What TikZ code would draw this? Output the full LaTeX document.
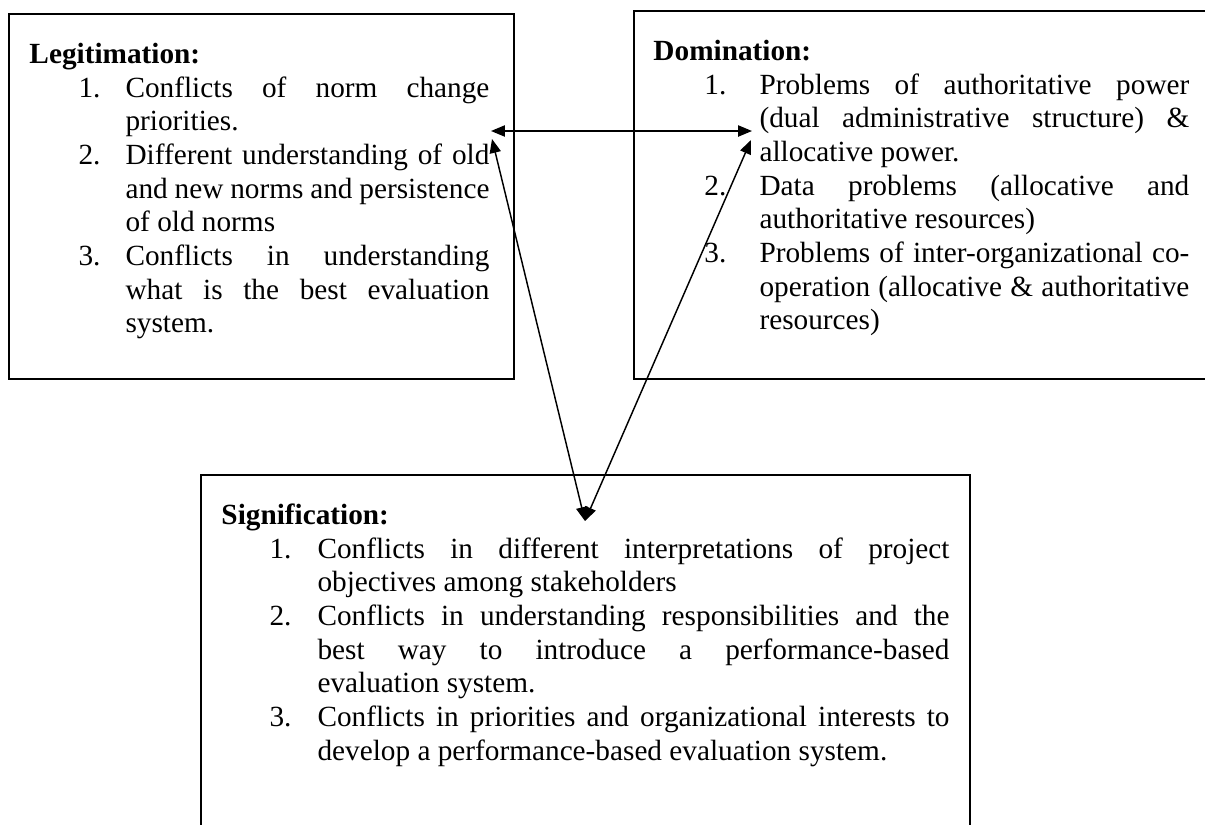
\documentclass[tikz,border=0pt]{standalone}
\usepackage{fontspec}
\setmainfont{Liberation Serif}
\usetikzlibrary{arrows.meta}
\newlength{\numin}
\newlength{\textin}
\newcommand{\numitem}[1]{\par\noindent\hangindent=\textin\hangafter=1\makebox[\textin][l]{\hspace*{\numin}#1}\ignorespaces}

\begin{document}
\begin{tikzpicture}[x=0.41pt,y=-0.41pt,
  panel/.style={draw,line width=0.8pt,anchor=north west,inner sep=0pt},
  listtext/.style={anchor=north west,inner sep=0pt,align=justify,font=\fontsize{12}{13.8}\selectfont},
  dblarrow/.style={{Triangle[length=5.7pt,width=4.6pt]}-{Triangle[length=5.7pt,width=4.6pt]},line width=0.6pt}]
\useasboundingbox (0,0) rectangle (1205,825);
\clip (0,0) rectangle (1205,825);
% the three boxes
\node [panel,minimum width=207pt,minimum height=149.6pt] (leg) at (8,13) {};
\node [panel,minimum width=240.7pt,minimum height=150.9pt] (dom) at (633,10) {};
\node [panel,minimum width=315.3pt,minimum height=160pt] (sig) at (200,474) {};
\node [listtext,text width=188.6pt] (legtext) at (29,39.4) {%
  \setlength{\numin}{20.1pt}\setlength{\textin}{39.4pt}%
  \strut\textbf{Legitimation:}
  \numitem{1.}Conflicts of norm change\linebreak priorities.
  \numitem{2.}Different understanding of old\linebreak and new norms and persistence\linebreak of old norms
  \numitem{3.}Conflicts in understanding\linebreak what is the best evaluation\linebreak system.\par};
\node [listtext,text width=219.7pt] (domtext) at (653,36.4) {%
  \setlength{\numin}{20.9pt}\setlength{\textin}{43.5pt}%
  \strut\textbf{Domination:}
  \numitem{1.}Problems of authoritative power\linebreak (dual administrative structure) \&\linebreak allocative power.
  \numitem{2.}Data problems (allocative and\linebreak authoritative resources)
  \numitem{3.}Problems of inter-organizational co-\linebreak operation (allocative \& authoritative\linebreak resources)\par};
\node [listtext,text width=298.5pt] (sigtext) at (221,500.4) {%
  \setlength{\numin}{19.7pt}\setlength{\textin}{39.4pt}%
  \strut\textbf{Signification:}
  \numitem{1.}Conflicts in different interpretations of project\linebreak objectives among stakeholders
  \numitem{2.}Conflicts in understanding responsibilities and the\linebreak best way to introduce a performance-based\linebreak evaluation system.
  \numitem{3.}Conflicts in priorities and organizational interests to\linebreak develop a performance-based evaluation system.\par};
% arrow ends
\coordinate (legH) at (491,131);
\coordinate (domH) at (752,131);
\coordinate (legS) at (492,139);
\coordinate (domS) at (751,140);
\coordinate (sigtip) at (585,521);
\draw [dblarrow] (legH) -- (domH);
\draw [dblarrow] (legS) -- (sigtip);
\draw [dblarrow] (domS) -- (sigtip);
\end{tikzpicture}
\end{document}
